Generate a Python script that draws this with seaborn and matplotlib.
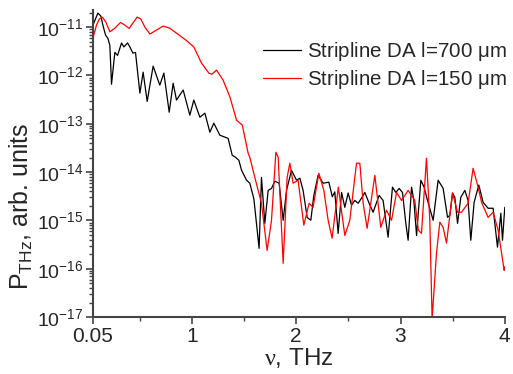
import numpy as np
import pandas as pd
import matplotlib
matplotlib.use("Agg")
import matplotlib.pyplot as plt
import matplotlib.ticker as mticker
import seaborn as sns

# frequency (THz) and THz power (arb. units)
freq_700 = [0.055, 0.098, 0.127, 0.146, 0.172, 0.194, 0.213, 0.229, 0.261, 0.287,
            0.325, 0.347, 0.383, 0.405, 0.434, 0.459, 0.501, 0.532, 0.571, 0.628,
            0.692, 0.731, 0.782, 0.820, 0.852, 0.916, 0.980, 1.018, 1.076, 1.124,
            1.172, 1.210, 1.268, 1.347, 1.386, 1.418, 1.450, 1.476, 1.524, 1.555,
            1.594, 1.644, 1.667, 1.699, 1.731, 1.763, 1.795, 1.836, 1.875, 1.907,
            1.955, 2.003, 2.035, 2.066, 2.105, 2.140, 2.169, 2.210, 2.258, 2.313,
            2.346, 2.370, 2.402, 2.435, 2.466, 2.498, 2.530, 2.562, 2.594, 2.626,
            2.658, 2.699, 2.737, 2.795, 2.833, 2.881, 2.923, 2.955, 2.987, 3.019,
            3.051, 3.073, 3.106, 3.128, 3.154, 3.195, 3.226, 3.259, 3.313, 3.361,
            3.409, 3.451, 3.473, 3.499, 3.521, 3.547, 3.578, 3.617, 3.648, 3.674,
            3.706, 3.751, 3.792, 3.840, 3.888, 3.930, 3.962, 3.978, 4.000]
power_700 = [1.15e-11, 1.95e-11, 1.69e-11, 1.10e-11, 6.8e-12, 5.9e-12, 4.2e-12, 6.6e-13, 3.0e-12, 2.6e-12,
             4.7e-12, 3.9e-12, 4.7e-12, 3.9e-12, 2.9e-12, 3.0e-12, 4.3e-13, 1.17e-12, 2.9e-13, 1.56e-12,
             6.3e-13, 1.12e-12, 1.74e-13, 6.9e-13, 3.1e-13, 5.0e-13, 1.51e-13, 3.1e-13, 1.37e-13, 1.66e-13,
             6.7e-14, 1.03e-13, 5.8e-14, 5.0e-14, 2.24e-14, 2.03e-14, 1.76e-14, 1.09e-14, 6.8e-15, 5.9e-15,
             2.8e-15, 2.65e-16, 7.8e-15, 8.7e-16, 4.2e-15, 4.6e-15, 6.5e-15, 5.9e-15, 1.01e-15, 4.2e-15,
             1.09e-14, 6.8e-15, 7.5e-15, 4.2e-15, 1.16e-15, 1.01e-15, 3.3e-15, 8.6e-15, 5.9e-15, 6.2e-15,
             3.1e-15, 3.9e-15, 5.4e-16, 3.8e-15, 1.87e-15, 3.7e-15, 2.07e-15, 2.6e-15, 2.27e-15, 2.9e-15,
             3.8e-15, 2.27e-15, 1.48e-15, 3.3e-15, 2.6e-15, 4.5e-16, 4.9e-15, 3.8e-15, 4.6e-15, 3.8e-15,
             8.7e-16, 3.9e-16, 4.9e-15, 2.6e-15, 4.9e-16, 6.8e-15, 4.9e-15, 2.6e-15, 1.01e-15, 6.8e-15,
             4.6e-15, 1.16e-15, 1.28e-15, 3.7e-15, 3.0e-15, 8.7e-16, 3.0e-15, 4.2e-15, 2.6e-15, 3.9e-16,
             2.38e-15, 5.4e-15, 2.38e-15, 1.79e-15, 1.79e-15, 2.8e-16, 1.41e-15, 3.9e-16, 1.87e-15]

freq_150 = [0.053, 0.085, 0.112, 0.141, 0.175, 0.213, 0.261, 0.316, 0.357, 0.398,
            0.434, 0.475, 0.510, 0.549, 0.597, 0.661, 0.724, 0.788, 0.852, 0.942,
            1.018, 1.092, 1.162, 1.191, 1.236, 1.299, 1.364, 1.428, 1.483, 1.539,
            1.555, 1.603, 1.667, 1.721, 1.763, 1.805, 1.827, 1.875, 1.913, 1.939,
            1.970, 2.018, 2.073, 2.124, 2.162, 2.217, 2.265, 2.306, 2.344, 2.404,
            2.466, 2.514, 2.578, 2.610, 2.642, 2.680, 2.754, 2.811, 2.866, 2.914,
            2.962, 3.010, 3.073, 3.137, 3.171, 3.201, 3.249, 3.281, 3.303, 3.345,
            3.377, 3.409, 3.441, 3.499, 3.547, 3.585, 3.648, 3.696, 3.744, 3.777,
            3.840, 3.888, 3.936, 3.994, 4.000]
power_150 = [6.2e-12, 1.10e-11, 1.47e-11, 1.61e-11, 1.27e-11, 8.0e-12, 9.5e-12, 1.25e-11, 1.10e-11, 9.4e-12,
             1.21e-11, 1.61e-11, 1.47e-11, 1.0e-11, 7.2e-12, 8.7e-12, 1.05e-11, 9.5e-12, 7.5e-12, 5.4e-12,
             3.9e-12, 1.80e-12, 1.12e-12, 1.06e-12, 1.29e-12, 8.0e-13, 3.6e-13, 1.19e-13, 9.4e-14, 2.46e-14,
             2.03e-14, 7.8e-15, 2.27e-15, 2.4e-16, 1.01e-15, 2.58e-14, 2.03e-14, 1.30e-16, 7.8e-15, 1.53e-14,
             5.9e-15, 6.8e-15, 8.0e-16, 2.27e-15, 1.87e-15, 9.5e-15, 4.2e-15, 1.01e-15, 4.3e-16, 4.9e-15,
             4.9e-16, 1.01e-15, 1.53e-14, 1.53e-14, 2.27e-15, 6.9e-16, 8.6e-15, 7.2e-16, 1.63e-15, 1.01e-15,
             3.8e-15, 2.6e-15, 4.2e-15, 2.6e-15, 6.3e-16, 5.4e-16, 1.94e-14, 1.01e-15, 9.0e-18, 2.1e-16,
             9.2e-16, 7.2e-16, 3.4e-16, 3.7e-15, 1.48e-15, 1.48e-15, 2.27e-15, 1.20e-14, 4.9e-15, 2.38e-15,
             1.16e-15, 1.48e-15, 6.3e-16, 9.3e-17, 1.1e-16]

y_ticks = [1e-17, 1e-16, 1e-15, 1e-14, 1e-13, 1e-12, 1e-11]

label_700 = r"Stripline DA l=700 $\mu$m"
label_150 = r"Stripline DA l=150 $\mu$m"

df = pd.concat([
    pd.DataFrame({"freq": freq_700, "power": power_700, "sample": label_700}),
    pd.DataFrame({"freq": freq_150, "power": power_150, "sample": label_150}),
])

sns.set_theme(style="ticks")
plt.rcParams["font.family"] = ["Liberation Sans", "DejaVu Sans"]
plt.rcParams["mathtext.fontset"] = "custom"
plt.rcParams["mathtext.rm"] = "Liberation Sans"
plt.rcParams["mathtext.it"] = "Liberation Serif"
plt.rcParams["mathtext.default"] = "regular"

fig = plt.figure(figsize=(5.13, 3.74), dpi=100)
ax = fig.add_axes([0.181, 0.152, 0.803, 0.821])

sns.lineplot(
    data=df, x="freq", y="power", hue="sample",
    palette={label_700: "black", label_150: "#ff0000"},
    estimator=None, sort=False, linewidth=0.9, ax=ax,
)

ax.set_yscale("log")
ax.set_xlim(0.05, 4)
ax.set_ylim(1e-17, 2.25e-11)
ax.set_xticks([0.05, 1, 2, 3, 4])
ax.set_xticklabels(["0.05", "1", "2", "3", "4"])
ax.xaxis.set_minor_locator(mticker.FixedLocator([0.5, 1.5, 2.5, 3.5]))
ax.yaxis.set_major_locator(mticker.FixedLocator(y_ticks))
ax.yaxis.set_major_formatter(mticker.LogFormatterSciNotation())
minor_y = [m * t for t in y_ticks[:-1] for m in range(2, 10)] + [2e-11]
ax.yaxis.set_minor_locator(mticker.FixedLocator(minor_y))
ax.yaxis.set_minor_formatter(mticker.NullFormatter())

ax.tick_params(axis="x", which="major", labelsize=15)
ax.tick_params(axis="y", which="major", labelsize=14)
ax.tick_params(axis="both", which="major", direction="out", length=5, width=1.2,
               color="#444444", pad=2)
ax.tick_params(axis="both", which="minor", direction="out", length=3, width=1.0,
               color="#444444")

sns.despine(ax=ax)
for side in ["left", "bottom"]:
    ax.spines[side].set_color("#444444")
    ax.spines[side].set_linewidth(1.5)

ax.set_xlabel(r"$\it{\nu}$, THz", fontsize=17.5, labelpad=0)
ax.set_ylabel(r"P$_{\mathrm{THz}}$, arb. units", fontsize=18)
ax.yaxis.set_label_coords(-0.14, 0.36)

ax.legend(title=None, frameon=False, fontsize=14.8, loc="upper right",
          bbox_to_anchor=(1.025, 0.93), handlelength=1.85, handletextpad=0.3,
          labelspacing=0.25, borderaxespad=0)

fig.savefig("out.png", dpi=100)
